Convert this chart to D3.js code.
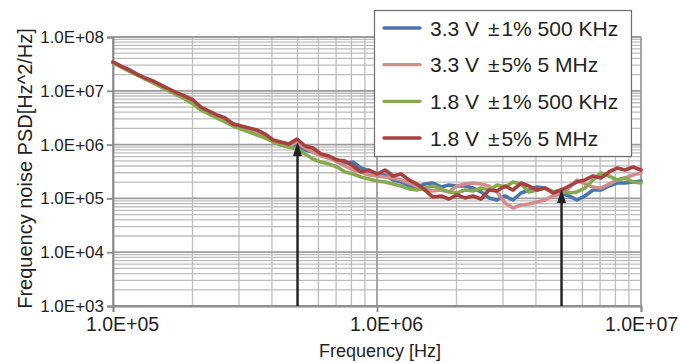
<!DOCTYPE html>
<html>
<head>
<meta charset="utf-8">
<script src="https://cdn.jsdelivr.net/npm/d3@7"></script>
<style>
  html, body { margin: 0; padding: 0; background: #fff; }
  svg text { font-family: "Liberation Sans", Arial, Helvetica, sans-serif; fill: #231f20; }
</style>
</head>
<body>
<div id="chart"></div>
<script>
// frequency samples (kHz)
const freqKHz = [100, 107, 115, 123, 132, 142, 152, 163, 175, 187, 201, 215, 231, 248, 266, 285, 305, 328, 351, 377,
  404, 433, 464, 498, 534, 572, 614, 658, 706, 757, 811, 870, 933,
  1000, 1072, 1150, 1233, 1322, 1417, 1520, 1630, 1748, 1874, 2009, 2154, 2310, 2477, 2656, 2848, 3054,
  3275, 3511, 3765, 4037, 4329, 4642, 4977, 5337, 5722, 6136, 6579, 7055, 7565, 8111, 8697, 9326, 10000];

// PSD [Hz^2/Hz]
const psd33v1 = [3.43e7, 2.89e7, 2.44e7, 2.05e7, 1.73e7, 1.46e7, 1.23e7, 1.03e7, 8.72e6, 7.35e6,
  6.19e6, 4.79e6, 4.04e6, 3.40e6, 2.87e6, 2.42e6, 2.03e6, 1.87e6, 1.71e6, 1.45e6,
  1.17e6, 1.03e6, 9.03e5, 9.83e5, 7.94e5, 7.29e5, 6.41e5, 5.64e5, 5.17e5, 4.55e5,
  4.75e5, 3.67e5, 3.23e5, 2.84e5, 2.72e5, 2.20e5, 2.02e5, 1.70e5, 1.63e5, 1.85e5,
  1.93e5, 1.63e5, 1.77e5, 1.70e5, 1.70e5, 1.56e5, 1.32e5, 1.02e5, 9.34e4, 1.11e5,
  9.34e4, 1.26e5, 1.43e5, 1.63e5, 1.56e5, 1.32e5, 1.26e5, 1.11e5, 9.34e4, 1.11e5,
  1.43e5, 1.43e5, 1.70e5, 1.93e5, 1.93e5, 2.02e5, 2.11e5];

const psd33v5 = [3.43e7, 2.89e7, 2.44e7, 2.05e7, 1.73e7, 1.46e7, 1.28e7, 1.08e7, 9.10e6, 7.67e6,
  6.46e6, 4.79e6, 4.04e6, 3.40e6, 2.99e6, 2.42e6, 2.22e6, 1.95e6, 1.71e6, 1.45e6,
  1.17e6, 1.03e6, 9.42e5, 1.12e6, 8.65e5, 7.29e5, 6.14e5, 5.64e5, 4.75e5, 4.00e5,
  3.37e5, 3.10e5, 2.72e5, 2.61e5, 2.50e5, 2.39e5, 2.20e5, 1.93e5, 1.70e5, 1.43e5,
  1.37e5, 1.43e5, 1.32e5, 1.70e5, 1.85e5, 1.93e5, 1.85e5, 1.70e5, 1.32e5, 8.21e4,
  6.63e4, 7.54e4, 7.87e4, 8.58e4, 9.34e4, 1.11e5, 1.21e5, 1.56e5, 2.20e5, 1.85e5,
  1.63e5, 1.56e5, 1.85e5, 2.20e5, 2.39e5, 2.72e5, 2.97e5];

const psd18v1 = [3.29e7, 2.77e7, 2.33e7, 1.97e7, 1.66e7, 1.40e7, 1.18e7, 9.92e6, 8.35e6, 7.04e6,
  5.68e6, 4.40e6, 3.71e6, 3.12e6, 2.63e6, 2.22e6, 1.95e6, 1.71e6, 1.51e6, 1.33e6,
  1.12e6, 9.83e5, 9.03e5, 8.29e5, 6.69e5, 5.40e5, 4.75e5, 4.36e5, 3.83e5, 3.10e5,
  2.84e5, 2.50e5, 2.29e5, 2.11e5, 2.02e5, 1.85e5, 1.70e5, 1.50e5, 1.43e5, 1.56e5,
  1.70e5, 1.50e5, 1.32e5, 1.26e5, 1.43e5, 1.37e5, 1.56e5, 1.43e5, 1.77e5, 1.63e5,
  2.02e5, 1.85e5, 1.32e5, 1.43e5, 1.56e5, 1.32e5, 1.43e5, 1.26e5, 1.32e5, 1.56e5,
  2.20e5, 2.97e5, 2.61e5, 2.20e5, 2.39e5, 2.02e5, 1.93e5];

const psd18v5 = [3.43e7, 2.89e7, 2.44e7, 2.05e7, 1.73e7, 1.52e7, 1.28e7, 1.08e7, 9.10e6, 8.00e6,
  6.75e6, 5.00e6, 4.21e6, 3.55e6, 3.12e6, 2.42e6, 2.22e6, 2.03e6, 1.87e6, 1.57e6,
  1.22e6, 1.12e6, 1.03e6, 1.27e6, 9.42e5, 8.65e5, 6.69e5, 6.14e5, 5.17e5, 4.96e5,
  4.00e5, 3.10e5, 3.37e5, 2.84e5, 3.37e5, 2.61e5, 2.84e5, 2.20e5, 1.85e5, 1.43e5,
  1.06e5, 1.11e5, 9.75e4, 1.16e5, 1.02e5, 1.11e5, 9.75e4, 1.43e5, 1.37e5, 1.70e5,
  1.43e5, 1.93e5, 1.70e5, 1.43e5, 1.56e5, 1.26e5, 1.43e5, 1.70e5, 2.02e5, 2.20e5,
  2.61e5, 2.39e5, 3.10e5, 3.67e5, 3.37e5, 3.83e5, 3.37e5];

const seriesNames = ['3.3 V \u00b11% 500 KHz', '3.3 V \u00b15% 5 MHz', '1.8 V \u00b11% 500 KHz', '1.8 V \u00b15% 5 MHz'];
const seriesValues = [psd33v1, psd33v5, psd18v1, psd18v5];
const seriesColors = ['#4a76ab', '#d28e8d', '#87aa50', '#a8403f'];

// arrows at the switching frequencies
const arrowFreqs = [5e5, 5e6];
const arrowTips = [1.12e6, 1.5e5];

const yMajor = [1e3, 1e4, 1e5, 1e6, 1e7, 1e8];
const xMajor = [1e5, 1e6, 1e7];

const width = 680;
const height = 363;
const margin = { top: 37, right: 39, bottom: 57, left: 113 };

const svg = d3.select('#chart')
  .append('svg')
  .attr('width', width)
  .attr('height', height);

const x = d3.scaleLog()
  .domain([1e5, 1e7])
  .range([margin.left, width - margin.right]);

const y = d3.scaleLog()
  .domain([1e3, 1e8])
  .range([height - margin.bottom, margin.top]);

// minor values 2..9 of every decade
const minorX = [];
[1e5, 1e6].forEach((d) => { for (let k = 2; k <= 9; k++) minorX.push(d * k); });
const minorY = [];
[1e3, 1e4, 1e5, 1e6, 1e7].forEach((d) => { for (let k = 2; k <= 9; k++) minorY.push(d * k); });

const grid = svg.append('g');

grid.selectAll('.hminor')
  .data(minorY)
  .enter()
  .append('line')
  .attr('x1', x(1e5)).attr('x2', x(1e7))
  .attr('y1', (d) => y(d)).attr('y2', (d) => y(d))
  .attr('stroke', '#bdbdbd')
  .attr('stroke-width', 1.3);

grid.selectAll('.vminor')
  .data(minorX)
  .enter()
  .append('line')
  .attr('x1', (d) => x(d)).attr('x2', (d) => x(d))
  .attr('y1', y(1e3)).attr('y2', y(1e8))
  .attr('stroke', '#bdbdbd')
  .attr('stroke-width', 1.3);

grid.selectAll('.hmajor')
  .data(yMajor)
  .enter()
  .append('line')
  .attr('x1', x(1e5)).attr('x2', x(1e7))
  .attr('y1', (d) => y(d)).attr('y2', (d) => y(d))
  .attr('stroke', '#9c9c9c')
  .attr('stroke-width', 1.8);

grid.selectAll('.vmajor')
  .data(xMajor)
  .enter()
  .append('line')
  .attr('x1', (d) => x(d)).attr('x2', (d) => x(d))
  .attr('y1', y(1e3)).attr('y2', y(1e8))
  .attr('stroke', '#9c9c9c')
  .attr('stroke-width', 1.8);

// axes
const fmt = (d) => '1.0E+' + String(Math.round(Math.log10(d))).padStart(2, '0');

const yAxis = svg.append('g')
  .attr('transform', `translate(${margin.left},0)`)
  .call(d3.axisLeft(y).tickValues(yMajor).tickFormat(fmt).tickSize(6).tickPadding(3));

const xAxis = svg.append('g')
  .attr('transform', `translate(0,${height - margin.bottom})`)
  .call(d3.axisBottom(x).tickValues(xMajor).tickFormat(fmt).tickSize(6).tickPadding(5));

[yAxis, xAxis].forEach((a) => {
  a.select('.domain').attr('stroke', '#8c8c8c').attr('stroke-width', 1.8);
  a.selectAll('.tick line').attr('stroke', '#8c8c8c').attr('stroke-width', 1.8);
});
yAxis.selectAll('.tick text').attr('font-size', 17).style('fill', '#231f20');
// labels sit a little right of their ticks, the last one kept inside the picture
xAxis.selectAll('.tick text')
  .attr('font-size', 19.5)
  .attr('dx', (d, i) => (i < 2 ? 9 : 0))
  .style('fill', '#231f20');

// axis titles
svg.append('text')
  .attr('x', (x(1e5) + x(1e7)) / 2 + 3)
  .attr('y', 357)
  .attr('text-anchor', 'middle')
  .attr('font-size', 18)
  .text('Frequency [Hz]');

svg.append('text')
  .attr('transform', `translate(32,${(y(1e3) + y(1e8)) / 2 - 3}) rotate(-90)`)
  .attr('text-anchor', 'middle')
  .attr('font-size', 20)
  .text('Frequency noise PSD[Hz^2/Hz]');

// series
const line = d3.line()
  .x((d) => x(d.f))
  .y((d) => y(d.v));

seriesValues.forEach((vals, i) => {
  const pts = freqKHz.map((f, j) => ({ f: f * 1e3, v: vals[j] }));
  svg.append('path')
    .datum(pts)
    .attr('fill', 'none')
    .attr('stroke', seriesColors[i])
    .attr('stroke-width', 3.6)
    .attr('stroke-linejoin', 'round')
    .attr('stroke-linecap', 'round')
    .attr('d', line);
});

// arrows
const arrows = svg.append('g');
arrowFreqs.forEach((f, i) => {
  const ax = x(f);
  const tip = y(arrowTips[i]);
  arrows.append('line')
    .attr('x1', ax).attr('x2', ax)
    .attr('y1', y(1e3)).attr('y2', tip + 10)
    .attr('stroke', '#231f20')
    .attr('stroke-width', 2.4);
  arrows.append('path')
    .attr('d', `M${ax},${tip} L${ax - 4.5},${tip + 14} L${ax + 4.5},${tip + 14} Z`)
    .attr('fill', '#231f20');
});

// legend
const legend = svg.append('g');
legend.append('rect')
  .attr('x', 374.5).attr('y', 10.5)
  .attr('width', 257).attr('height', 146)
  .attr('fill', '#fff')
  .attr('stroke', '#6d6d6d')
  .attr('stroke-width', 1.2);

const legendY = d3.scalePoint()
  .domain(seriesNames)
  .range([28, 138]);

seriesNames.forEach((name, i) => {
  const ly = legendY(name);
  const parts = name.split('\u00b1');
  legend.append('line')
    .attr('x1', 384).attr('x2', 420)
    .attr('y1', ly).attr('y2', ly)
    .attr('stroke', seriesColors[i])
    .attr('stroke-width', 3.4)
    .attr('stroke-linecap', 'round');
  const t = legend.append('text')
    .attr('x', 430)
    .attr('y', ly + 7.5)
    .attr('font-size', 21);
  t.append('tspan').text(parts[0]);
  t.append('tspan').attr('dx', 3).text('\u00b1');
  t.append('tspan').attr('dx', 2).text(parts[1]);
});
</script>
</body>
</html>
